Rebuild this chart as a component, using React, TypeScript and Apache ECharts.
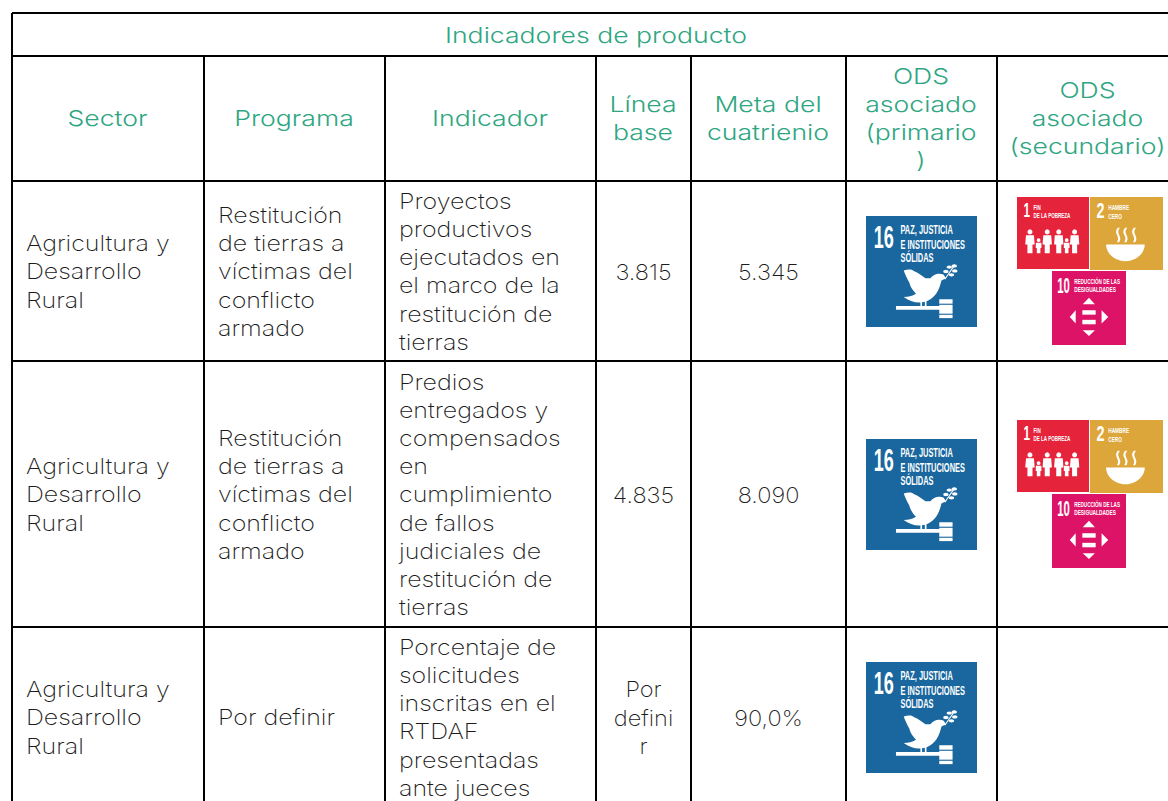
import React, { useEffect, useRef } from "react";
import * as echarts from "echarts";

const tableTitle = "Indicadores de producto";
const headers = ["Sector", "Programa", "Indicador", "Línea\nbase", "Meta del\ncuatrienio", "ODS\nasociado\n(primario\n)", "ODS\nasociado\n(secundario)"];
const sectors = ["Agricultura y\nDesarrollo\nRural", "Agricultura y\nDesarrollo\nRural", "Agricultura y\nDesarrollo\nRural"];
const programs = ["Restitución\nde tierras a\nvíctimas del\nconflicto\narmado", "Restitución\nde tierras a\nvíctimas del\nconflicto\narmado", "Por definir"];
const indicators = [
  "Proyectos\nproductivos\nejecutados en\nel marco de la\nrestitución de\ntierras",
  "Predios\nentregados y\ncompensados\nen\ncumplimiento\nde fallos\njudiciales de\nrestitución de\ntierras",
  "Porcentaje de\nsolicitudes\ninscritas en el\nRTDAF\npresentadas\nante jueces",
];
const baselines = ["3.815", "4.835", "Por\ndefini\nr"];
const targets = ["5.345", "8.090", "90,0%"];
const primaryGoals = [16, 16, 16];
const secondaryGoals = [[1, 2, 10], [1, 2, 10], [] as number[]];

const colEdges = [12, 204, 385, 596, 691, 846, 997, 1168];
const rowEdges = [13, 56, 181, 361, 627];
const rowCenters = [271, 494, 717];
const GREEN = "#2FA682";
const INK = "#1c1c1c";
const FONT = "Inter";

const DOVE = "M34 49 C38 48 41 48 43 49.5 C47 51 51 54 53.5 56 L58 56 C60 54 62 52 65 52 C67 52 69 52 70 53 L72 56 L68 58 C67 62 66 65 65 67 C63 71 61 73 58 75 C55 77 51 78 48 78 C43 78 38 76 34 73 C38 73 42 72 45 70 C42 67 40 64 39 60 C37 56 35 52 34 49 Z";
const BOWL = "M0 0 L53 0 C53 13 40 23 26.5 23 C13 23 0 13 0 0 Z";
const STEAM = "M3 0 C0 4 0 6 2 10 C4 14 4 16 2 20 L5 20 C7 16 7 14 5 10 C3 6 3 4 6 0 Z";
echarts.graphic.registerShape("dove", echarts.graphic.extendPath(DOVE, {}));
echarts.graphic.registerShape("bowl", echarts.graphic.extendPath(BOWL, {}));
echarts.graphic.registerShape("steam", echarts.graphic.extendPath(STEAM, {}));

const white = { fill: "#fff" };
const t = (text: string, x: number, y: number, size: number, sx = 0.61) => ({
  type: "text", x, y, scaleX: sx, silent: true,
  style: { text, fontFamily: "Liberation Sans", fontWeight: "bold", fontSize: size, fill: "#fff", align: "left", verticalAlign: "top" },
});
const r = (x: number, y: number, width: number, height: number) => ({ type: "rect", shape: { x, y, width, height }, style: white });
const poly = (points: number[][]) => ({ type: "polygon", shape: { points }, style: white });
const head = (cx: number, cy: number, rr: number) => ({ type: "circle", shape: { cx, cy, r: rr }, style: white });

function goalChildren(goal: number): any[] {
  if (goal === 16) {
    return [
      { type: "rect", shape: { x: 0, y: 0, width: 100, height: 100 }, style: { fill: "#19679E" } },
      t("16", 7, 4.5, 29, 0.56), t("PAZ, JUSTICIA", 31, 7, 11), t("E INSTITUCIONES", 31, 20, 11), t("SÓLIDAS", 31, 32, 11),
      { type: "dove", style: white },
      r(49, 76, 1.5, 6), r(53, 76, 1.5, 6), r(27, 81, 40, 3.5), r(66, 75, 12, 4), r(66, 80, 12, 8), r(66, 89, 12, 3),
      { type: "line", shape: { x1: 71, y1: 57, x2: 80, y2: 44 }, style: { stroke: "#fff", lineWidth: 1 } },
      { type: "ellipse", shape: { cx: 79.5, cy: 45, rx: 2.4, ry: 1.5 }, style: white },
      { type: "ellipse", shape: { cx: 75, cy: 46, rx: 2.4, ry: 1.5 }, style: white },
      { type: "ellipse", shape: { cx: 80, cy: 49.5, rx: 2.4, ry: 1.5 }, style: white },
      { type: "ellipse", shape: { cx: 72, cy: 50, rx: 2.4, ry: 1.5 }, style: white },
      { type: "ellipse", shape: { cx: 77, cy: 53, rx: 2.4, ry: 1.5 }, style: white },
    ];
  }
  if (goal === 1) {
    const big = [18, 42, 58, 80];
    const small = [30, 69];
    return [
      { type: "rect", shape: { x: 0, y: 0, width: 100, height: 100 }, style: { fill: "#E5243B" } },
      t("1", 9, 4.5, 29, 0.56), t("FIN", 23, 10, 10, 0.63), t("DE LA POBREZA", 23, 21, 10, 0.63),
      ...big.flatMap((x) => [head(x, 48.5, 3.5), poly([[x - 5.5, 53], [x + 5.5, 53], [x + 6.5, 66], [x + 3.5, 66], [x + 3.5, 78], [x - 3.5, 78], [x - 3.5, 66], [x - 6.5, 66]])]),
      ...small.flatMap((x) => [head(x, 60, 2.6), poly([[x - 3.8, 63.5], [x + 3.8, 63.5], [x + 4, 71], [x + 2.5, 71], [x + 2.5, 78], [x - 2.5, 78], [x - 2.5, 71], [x - 4, 71]])]),
    ];
  }
  if (goal === 2) {
    return [
      { type: "rect", shape: { x: 0, y: 0, width: 100, height: 100 }, style: { fill: "#DDA63A" } },
      t("2", 9, 4.5, 29, 0.68), t("HAMBRE", 25, 9, 10, 0.65), t("CERO", 25, 21, 10, 0.65),
      { type: "bowl", x: 22, y: 65, style: white },
      { type: "steam", x: 35, y: 42, style: white },
      { type: "steam", x: 45, y: 42, style: white },
      { type: "steam", x: 57, y: 42, style: white },
    ];
  }
  return [
    { type: "rect", shape: { x: 0, y: 0, width: 100, height: 100 }, style: { fill: "#DD1367" } },
    t("10", 7, 4.5, 29, 0.53), t("REDUCCIÓN DE LAS", 30, 8, 10, 0.62), t("DESIGUALDADES", 30, 20, 10, 0.65),
    poly([[50, 36], [41.5, 45], [58, 45]]), r(41, 53, 18, 6), r(41, 66, 18, 6), poly([[41.5, 80], [58, 80], [50, 88]]),
    poly([[32, 53], [32, 71], [24, 62]]), poly([[67, 53], [67, 71], [76, 62]]),
  ];
}

const logo = (goal: number, x: number, y: number, size: number) => ({
  type: "group", x, y, scaleX: size / 100, scaleY: size / 100, children: goalChildren(goal),
});

const cell = (text: string, x: number, y: number, align: string, fill: string, sx: number, weight: number) => ({
  type: "text", x, y, scaleX: sx, silent: true,
  style: { text, x: 0, y: 0, fontFamily: FONT, fontWeight: weight, fontSize: 22, lineHeight: 28.2, fill, align, verticalAlign: "middle" },
});

function buildGraphic() {
  const els: any[] = [];
  const xEnd = colEdges[colEdges.length - 1];
  rowEdges.forEach((y) => els.push({ type: "line", shape: { x1: colEdges[0], y1: y, x2: xEnd, y2: y }, style: { stroke: "#000", lineWidth: 2 } }));
  colEdges.slice(0, -1).forEach((x, i) =>
    els.push({ type: "line", shape: { x1: x, y1: i === 0 ? rowEdges[0] : rowEdges[1], x2: x, y2: 801 }, style: { stroke: "#000", lineWidth: 2 } })
  );
  els.push(cell(tableTitle, (colEdges[0] + xEnd + 12) / 2, 35, "center", GREEN, 1.21, 300));
  headers.forEach((h, i) => {
    const right = i === 6 ? 1179 : colEdges[i + 1];
    els.push(cell(h, (colEdges[i] + right) / 2 - 0.5, 118, "center", GREEN, 1.21, 300));
  });
  rowCenters.forEach((cy, i) => {
    const ty = cy + 0.4;
    els.push(cell(sectors[i], colEdges[0] + 14, ty, "left", INK, 1.135, 200));
    els.push(cell(programs[i], colEdges[1] + 14, ty, "left", INK, 1.135, 200));
    els.push(cell(indicators[i], colEdges[2] + 14, ty, "left", INK, 1.135, 200));
    els.push(cell(baselines[i], (colEdges[3] + colEdges[4]) / 2, ty, "center", INK, 1.07, 200));
    els.push(cell(targets[i], (colEdges[4] + colEdges[5]) / 2, ty, "center", INK, 1.07, 200));
    els.push(logo(primaryGoals[i], 866, cy - 55, 111));
    const sec = secondaryGoals[i];
    if (sec.length) {
      els.push(logo(sec[0], 1017, cy - 74, 72));
      els.push(logo(sec[1], 1090, cy - 74, 73));
      els.push(logo(sec[2], 1052, cy, 74));
    }
  });
  return els;
}

export default function App() {
  const ref = useRef<HTMLDivElement>(null);
  useEffect(() => {
    const chart = echarts.init(ref.current!, undefined, { renderer: "svg" });
    chart.setOption({ animation: false, backgroundColor: "#fff", graphic: { elements: buildGraphic() } });
    return () => chart.dispose();
  }, []);
  return <div ref={ref} style={{ position: "fixed", left: 0, top: 0, width: 1168, height: 801 }} />;
}
